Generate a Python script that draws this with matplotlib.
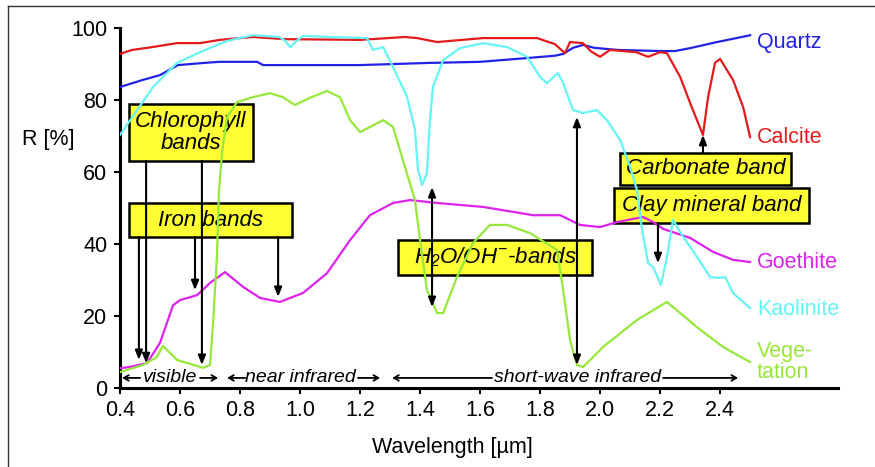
import matplotlib
matplotlib.use("Agg")
import matplotlib.pyplot as plt
from matplotlib.patches import Rectangle
from matplotlib.lines import Line2D

plt.rcParams['font.family'] = ['Liberation Sans', 'DejaVu Sans']
plt.rcParams['mathtext.fontset'] = 'custom'
plt.rcParams['mathtext.it'] = 'Liberation Sans:italic'
plt.rcParams['mathtext.rm'] = 'Liberation Sans:italic'

# spectra (wavelength in um, reflectance in %)
quartz_wl = [0.40, 0.477, 0.533, 0.593, 0.68, 0.73, 0.857, 0.877, 1.2, 1.43, 1.6, 1.72,
             1.85, 1.877, 1.91, 1.943, 1.98, 2.06, 2.2, 2.25, 2.3, 2.39, 2.49, 2.5]
quartz_r = [83.6, 85.6, 86.9, 89.7, 90.3, 90.6, 90.6, 89.7, 89.7, 90.3, 90.6, 91.4,
            92.3, 92.8, 94.5, 95.3, 94.5, 93.9, 93.6, 93.6, 94.4, 96.1, 97.8, 98.0]

calcite_wl = [0.40, 0.44, 0.50, 0.59, 0.667, 0.733, 0.843, 0.95, 1.2, 1.35, 1.39, 1.457,
              1.61, 1.79, 1.85, 1.883, 1.90, 1.943, 1.97, 2.0, 2.033, 2.12, 2.16, 2.2,
              2.223, 2.267, 2.3, 2.323, 2.343, 2.36, 2.383, 2.4, 2.443, 2.477, 2.5]
calcite_r = [92.8, 93.9, 94.6, 95.8, 95.8, 96.7, 97.5, 96.9, 96.7, 97.5, 97.2, 96.1,
             97.2, 97.2, 95.5, 93.0, 96.1, 95.8, 93.5, 92.0, 93.9, 93.3, 92.0, 93.3,
             93.0, 86.4, 79.2, 74.4, 70.3, 80.8, 90.3, 91.4, 85.6, 78.0, 69.7]

kaolinite_wl = [0.40, 0.457, 0.51, 0.59, 0.667, 0.757, 0.843, 0.93, 0.95, 0.967, 0.99, 1.01,
                1.1, 1.223, 1.243, 1.277, 1.31, 1.357, 1.383, 1.393, 1.407, 1.423, 1.433,
                1.443, 1.477, 1.533, 1.61, 1.69, 1.757, 1.8, 1.823, 1.86, 1.877, 1.91,
                1.943, 1.99, 2.023, 2.067, 2.1, 2.123, 2.14, 2.16, 2.177, 2.203, 2.223,
                2.243, 2.277, 2.323, 2.367, 2.4, 2.417, 2.443, 2.5]
kaolinite_r = [70.3, 77.2, 83.6, 90.3, 93.3, 96.4, 98.0, 97.5, 96.5, 94.7, 96.5, 97.8,
               97.5, 97.2, 93.9, 94.7, 89.2, 80.8, 71.7, 60.6, 56.4, 59.7, 74.4,
               83.6, 91.1, 94.4, 95.8, 94.7, 92.0, 86.4, 84.7, 87.5, 84.7, 77.2,
               76.4, 77.2, 74.4, 68.9, 61.4, 55.0, 44.0, 34.7, 33.6, 28.6, 36.4,
               46.7, 42.0, 36.4, 30.8, 30.6, 30.8, 26.4, 22.2]

goethite_wl = [0.40, 0.43, 0.49, 0.533, 0.577, 0.60, 0.657, 0.70, 0.75, 0.81, 0.867, 0.933,
               1.01, 1.09, 1.167, 1.233, 1.31, 1.367, 1.457, 1.61, 1.777, 1.867, 1.933,
               2.0, 2.057, 2.143, 2.177, 2.21, 2.3, 2.377, 2.443, 2.5]
goethite_r = [5.5, 5.8, 6.9, 12.5, 23.0, 24.4, 25.8, 29.2, 32.2, 28.1, 25.0, 23.9,
              26.4, 31.9, 41.1, 48.0, 51.4, 52.2, 51.4, 50.3, 48.0, 48.0, 45.3,
              44.7, 46.1, 47.5, 46.1, 44.2, 41.7, 37.8, 35.6, 35.0]

veg_wl = [0.40, 0.477, 0.523, 0.543, 0.59, 0.677, 0.70, 0.71, 0.723, 0.73, 0.74, 0.757,
          0.79, 0.843, 0.90, 0.943, 0.983, 1.033, 1.09, 1.133, 1.167, 1.2, 1.277, 1.31,
          1.343, 1.383, 1.40, 1.423, 1.457, 1.477, 1.523, 1.577, 1.633, 1.69, 1.767,
          1.857, 1.877, 1.90, 1.923, 1.943, 2.01, 2.123, 2.223, 2.323, 2.41, 2.5]
veg_r = [4.4, 6.4, 8.6, 11.7, 7.8, 5.6, 6.4, 18.0, 36.4, 55.0, 65.3, 75.3,
         79.4, 80.8, 81.9, 80.8, 78.6, 80.6, 82.5, 80.8, 74.4, 71.1, 74.4, 72.5,
         63.3, 52.2, 41.1, 27.2, 20.8, 20.8, 30.8, 40.3, 45.3, 45.3, 43.0,
         38.3, 27.2, 13.3, 6.4, 5.8, 11.4, 18.9, 23.9, 16.9, 11.4, 7.2]

series = [("Quartz", quartz_wl, quartz_r, "#2222e6", 96.1),
          ("Calcite", calcite_wl, calcite_r, "#e31a1c", 69.7),
          ("Goethite", goethite_wl, goethite_r, "#dd22ee", 35.0),
          ("Kaolinite", kaolinite_wl, kaolinite_r, "#66f4f7", 21.7),
          ("Vege-\ntation", veg_wl, veg_r, "#96e83a", 7.2)]

# annotation boxes: text, x0, x1, y0, y1
boxes = [("Chlorophyll\nbands", 0.43, 0.843, 63.1, 78.9),
         ("Iron bands", 0.43, 0.973, 41.9, 51.4),
         (r"$H_2O/OH^{-}$-bands", 1.327, 1.973, 31.4, 41.1),
         ("Carbonate band", 2.067, 2.637, 56.4, 65.3),
         ("Clay mineral band", 2.047, 2.697, 45.8, 55.6)]

# arrows: x, start R, tip R, style
arrows = [(0.487, 63.1, 6.9, '-|>'), (0.673, 63.1, 6.4, '-|>'),
          (0.463, 41.9, 7.8, '-|>'), (0.65, 41.9, 27.2, '-|>'), (0.927, 41.9, 25.3, '-|>'),
          (1.44, 22.5, 55.8, '<|-|>'), (1.923, 6.4, 75.3, '<|-|>'),
          (2.343, 65.3, 70.3, '-|>'), (2.193, 45.8, 34.7, '-|>')]

# spectral regions: label, text centre, (arrow tail, arrow head) pairs
regions = [("visible", 0.567, [(0.467, 0.407), (0.667, 0.727)]),
           ("near infrared", 1.0, [(0.817, 0.757), (1.193, 1.267)]),
           ("short-wave infrared", 1.925, [(1.64, 1.307), (2.21, 2.46)])]

xticks = [0.4, 0.6, 0.8, 1.0, 1.2, 1.4, 1.6, 1.8, 2.0, 2.2, 2.4]
yticks = [0, 20, 40, 60, 80, 100]

fig = plt.figure(figsize=(8.75, 4.67), dpi=100)
ax = fig.add_axes([120/875, 1-388/467, 718/875, 360/467])

for txt, x0, x1, y0, y1 in boxes:
    ax.add_patch(Rectangle((x0, y0), x1-x0, y1-y0, facecolor='#ffff33',
                           edgecolor='black', lw=1.8, zorder=1))
    ax.text((x0+x1)/2, (y0+y1)/2, txt, ha='center', va='center', style='italic',
            fontsize=16, linespacing=1.05, zorder=2)

for name, wl, r, col, ylab in series:
    ax.plot(wl, r, color=col, lw=1.6, zorder=3)
    ax.text(2.523, ylab, name, color=col, fontsize=15.5, va='center', ha='left',
            linespacing=1.0, clip_on=False)

for x, ys, ye, st in arrows:
    ax.annotate('', xy=(x, ye), xytext=(x, ys),
                arrowprops=dict(arrowstyle=st + ',head_length=0.55,head_width=0.22',
                                color='black', lw=1.5, shrinkA=0, shrinkB=0),
                zorder=4)

for label, xc, arr in regions:
    ax.text(xc, 2.8, label, style='italic', fontsize=14, ha='center', va='center')
    for xt, xh in arr:
        ax.annotate('', xy=(xh, 2.8), xytext=(xt, 2.8),
                    arrowprops=dict(arrowstyle='->,head_length=0.35,head_width=0.2',
                                    lw=1.3, color='black', shrinkA=0, shrinkB=0))

ax.set_xlim(0.4, 2.793)
ax.set_ylim(0, 100)
ax.set_xticks(xticks)
ax.set_xticklabels(["%.1f" % t for t in xticks])
ax.set_yticks(yticks)
for s in ['top', 'right']:
    ax.spines[s].set_visible(False)
for s in ['left', 'bottom']:
    ax.spines[s].set_linewidth(2.2)
ax.tick_params(labelsize=15.5, length=4, width=1.5, pad=5)

fig.text(22/875, 1-140/467, "R [%]", fontsize=15.5, va='center', ha='left')
fig.text(452/875, 1-447/467, "Wavelength [\u00b5m]", fontsize=15.5, va='center', ha='center')

# outer frame (only top and left edges are in view)
fig.add_artist(Line2D([8/875, 8/875], [0, 1-6/467], transform=fig.transFigure,
                      color='#333333', lw=1))
fig.add_artist(Line2D([8/875, 1], [1-6/467, 1-6/467], transform=fig.transFigure,
                      color='#333333', lw=1))

fig.savefig("out.png", dpi=100)
